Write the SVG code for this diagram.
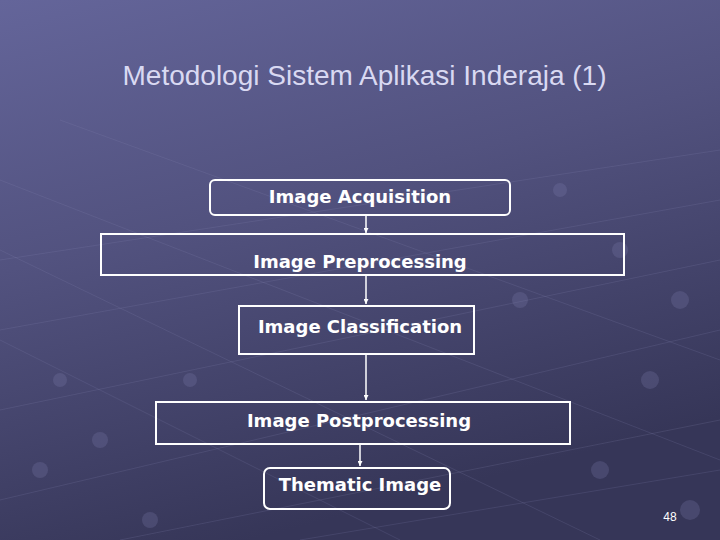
<svg xmlns="http://www.w3.org/2000/svg" width="720" height="540" viewBox="0 0 720 540">
<defs>
<linearGradient id="bg" x1="0" y1="0" x2="0.35" y2="1">
<stop offset="0" stop-color="#64659a"/>
<stop offset="0.45" stop-color="#52527f"/>
<stop offset="1" stop-color="#363658"/>
</linearGradient>
<marker id="arr" viewBox="0 0 10 10" refX="10" refY="5" markerWidth="5" markerHeight="5" orient="auto" markerUnits="userSpaceOnUse">
<path d="M0,0 L10,5 L0,10 Z" fill="#ffffff"/>
</marker>
<style>
.box{fill:none;stroke:#ffffff;stroke-width:2}
.lbl{font-family:"DejaVu Sans",Verdana,sans-serif;font-weight:bold;font-size:18px;fill:#ffffff;text-anchor:middle}
.con{stroke:#ffffff;stroke-width:1.5;fill:none;marker-end:url(#arr)}
.deco{stroke:#8a8ab8;stroke-width:1;opacity:0.18;fill:none}
.dot{fill:#8080b0;opacity:0.25}
</style>
</defs>
<rect width="720" height="540" fill="url(#bg)"/>
<g id="background-texture">
<path class="deco" d="M0,260 L720,150 M0,330 L720,200 M0,410 L720,260 M0,500 L720,330 M120,540 L720,420 M300,540 L720,470 M60,120 L720,360 M0,180 L720,460 M0,250 L600,540 M0,340 L400,540"/>
<circle class="dot" cx="560" cy="190" r="7"/><circle class="dot" cx="620" cy="250" r="8"/>
<circle class="dot" cx="680" cy="300" r="9"/><circle class="dot" cx="650" cy="380" r="9"/>
<circle class="dot" cx="60" cy="380" r="7"/><circle class="dot" cx="100" cy="440" r="8"/>
<circle class="dot" cx="40" cy="470" r="8"/><circle class="dot" cx="190" cy="380" r="7"/>
<circle class="dot" cx="520" cy="300" r="8"/><circle class="dot" cx="600" cy="470" r="9"/>
<circle class="dot" cx="690" cy="510" r="10"/><circle class="dot" cx="150" cy="520" r="8"/>
</g>
<text x="364.5" y="85" font-family="'Liberation Sans',Arial,sans-serif" font-size="28" fill="#d9d9f2" text-anchor="middle">Metodologi Sistem Aplikasi Inderaja (1)</text>
<g id="connectors">
<line class="con" x1="366" y1="216" x2="366" y2="233"/>
<line class="con" x1="366" y1="276" x2="366" y2="304"/>
<line class="con" x1="366" y1="355" x2="366" y2="400"/>
<line class="con" x1="360" y1="445" x2="360" y2="466"/>
</g>
<g id="n1"><rect class="box" x="210" y="180" width="300" height="35" rx="5"/><text class="lbl" x="360" y="203">Image Acquisition</text></g>
<g id="n2"><rect class="box" x="101" y="234" width="523" height="41"/><text class="lbl" x="360" y="268">Image Preprocessing</text></g>
<g id="n3"><rect class="box" x="239" y="306" width="235" height="48"/><text class="lbl" x="360" y="333">Image Classification</text></g>
<g id="n4"><rect class="box" x="156" y="402" width="414" height="42"/><text class="lbl" x="359" y="427">Image Postprocessing</text></g>
<g id="n5"><rect class="box" x="264" y="468" width="186" height="41" rx="6"/><text class="lbl" x="360" y="491">Thematic Image</text></g>
<text x="670" y="521" font-family="'Liberation Sans',Arial,sans-serif" font-size="12" fill="#ffffff" text-anchor="middle">48</text>
</svg>
